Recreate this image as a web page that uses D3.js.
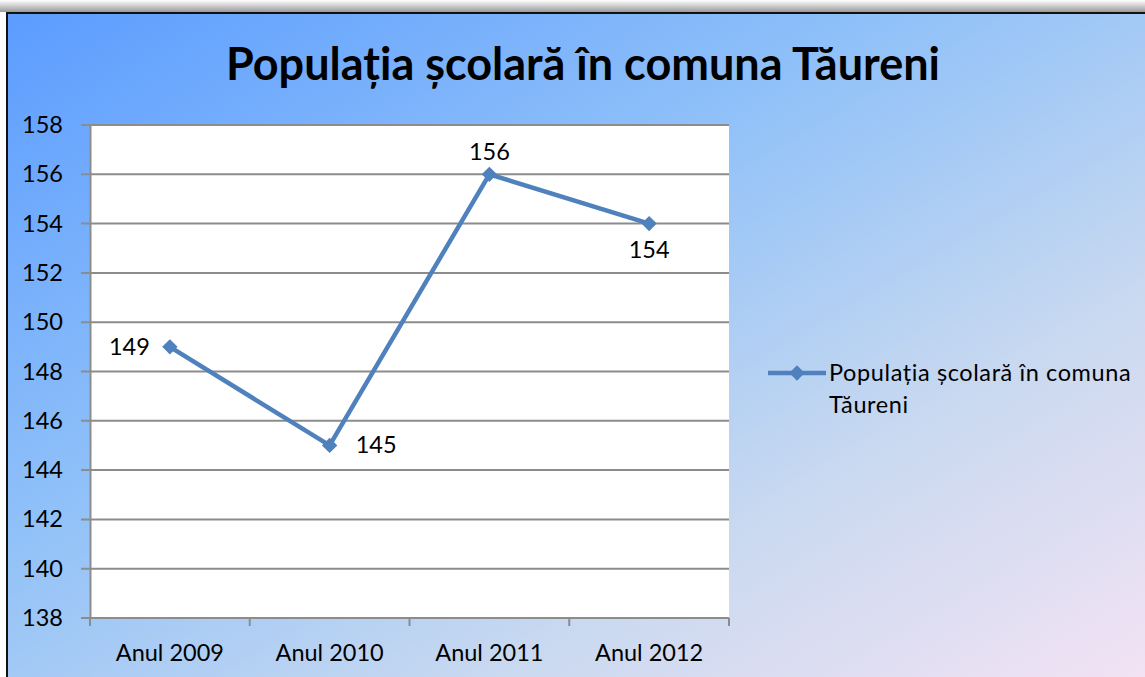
<!DOCTYPE html>
<html>
<head>
<meta charset="utf-8">
<script src="https://cdn.jsdelivr.net/npm/d3@7"></script>
<style>
  html, body { margin: 0; padding: 0; background: #fff; }
  svg { display: block; font-family: Lato, "Open Sans", sans-serif; }
</style>
</head>
<body>
<div id="chart"></div>
<script>
// date
const categories = ['Anul 2009', 'Anul 2010', 'Anul 2011', 'Anul 2012'];
const values = [149, 145, 156, 154];
const yTicks = [138, 140, 142, 144, 146, 148, 150, 152, 154, 156, 158];
const labelPos = ['left', 'right', 'top', 'bottom'];
const title = 'Populația școlară în comuna Tăureni';
const seriesName = ['Populația școlară în comuna', 'Tăureni'];

const width = 1145, height = 677;
const margin = { left: 90, right: 729, top: 125, bottom: 618 };
const fs = 23.5;

const svg = d3.select('#chart').append('svg')
    .attr('width', width)
    .attr('height', height);

const defs = svg.append('defs');

// fundal cu gradient
const bg = defs.append('linearGradient')
    .attr('id', 'bg').attr('x1', '0%').attr('y1', '0%').attr('x2', '100%').attr('y2', '100%');
bg.append('stop').attr('offset', '0%').attr('stop-color', '#5b9cff');
bg.append('stop').attr('offset', '40%').attr('stop-color', '#92c2f8');
bg.append('stop').attr('offset', '70%').attr('stop-color', '#c9d9f0');
bg.append('stop').attr('offset', '100%').attr('stop-color', '#f5e3f4');

const topShade = defs.append('linearGradient')
    .attr('id', 'topShade').attr('x1', '0').attr('y1', '0').attr('x2', '0').attr('y2', '1');
topShade.append('stop').attr('offset', '0%').attr('stop-color', '#ffffff');
topShade.append('stop').attr('offset', '100%').attr('stop-color', '#9a9a9a');

svg.append('rect').attr('x', 0).attr('y', 0).attr('width', width).attr('height', 12)
    .attr('fill', 'url(#topShade)');

svg.append('rect')
    .attr('x', 7).attr('y', 13)
    .attr('width', width + 10).attr('height', height)
    .attr('fill', 'url(#bg)')
    .attr('stroke', '#111').attr('stroke-width', 2);

// titlu
svg.append('text')
    .attr('x', 583).attr('y', 80)
    .attr('text-anchor', 'middle')
    .attr('font-size', 45).attr('font-weight', 'bold')
    .attr('fill', '#000')
    .text(title);

// scale
const x = d3.scaleBand().domain(categories).range([margin.left, margin.right]);
const y = d3.scaleLinear().domain([138, 158]).range([margin.bottom, margin.top]);

svg.append('rect')
    .attr('x', margin.left).attr('y', margin.top)
    .attr('width', margin.right - margin.left).attr('height', margin.bottom - margin.top)
    .attr('fill', '#fff');

// linii de grila
svg.append('g').selectAll('line')
    .data(yTicks)
    .join('line')
    .attr('x1', margin.left - 9).attr('x2', margin.right)
    .attr('y1', d => y(d)).attr('y2', d => y(d))
    .attr('stroke', '#8c8c8c').attr('stroke-width', 2);

// axa Y
const yAxis = svg.append('g')
    .attr('transform', `translate(${margin.left},0)`)
    .call(d3.axisLeft(y).tickValues(yTicks).tickSize(0).tickPadding(27));
yAxis.select('.domain').attr('stroke', '#8c8c8c').attr('stroke-width', 2);
yAxis.selectAll('text').attr('font-size', fs).attr('fill', '#000')
    .attr('font-family', 'Lato, sans-serif');

// axa X
const xAxis = svg.append('g')
    .attr('transform', `translate(0,${margin.bottom})`)
    .call(d3.axisBottom(x).tickSize(0).tickPadding(26));
xAxis.select('.domain').remove();
xAxis.selectAll('text').attr('font-size', fs).attr('fill', '#000')
    .attr('font-family', 'Lato, sans-serif');
svg.append('line')
    .attr('x1', margin.left).attr('x2', margin.right)
    .attr('y1', margin.bottom).attr('y2', margin.bottom)
    .attr('stroke', '#8c8c8c').attr('stroke-width', 2);
const bounds = categories.map(c => x(c)).concat([x(categories[categories.length - 1]) + x.bandwidth()]);
svg.append('g').selectAll('line')
    .data(bounds)
    .join('line')
    .attr('x1', d => d).attr('x2', d => d)
    .attr('y1', margin.bottom).attr('y2', margin.bottom + 8)
    .attr('stroke', '#8c8c8c').attr('stroke-width', 2);

// linia seriei
const cx = d => x(d) + x.bandwidth() / 2;
const pts = categories.map((c, i) => ({ c, v: values[i], pos: labelPos[i] }));
const color = '#4f81bd';

svg.append('path')
    .datum(pts)
    .attr('d', d3.line().x(d => cx(d.c)).y(d => y(d.v)))
    .attr('fill', 'none')
    .attr('stroke', color).attr('stroke-width', 4.5)
    .attr('stroke-linejoin', 'round');

const diamond = d3.symbol().type(d3.symbolDiamond2).size(150);
svg.append('g').selectAll('path')
    .data(pts)
    .join('path')
    .attr('d', diamond)
    .attr('transform', d => `translate(${cx(d.c)},${y(d.v)})`)
    .attr('fill', color);

// etichete de date
const offs = { left: [-20, 8, 'end'], right: [26, 8, 'start'], top: [0, -14, 'middle'], bottom: [0, 34, 'middle'] };
svg.append('g').selectAll('text')
    .data(pts)
    .join('text')
    .attr('x', d => cx(d.c) + offs[d.pos][0])
    .attr('y', d => y(d.v) + offs[d.pos][1])
    .attr('text-anchor', d => offs[d.pos][2])
    .attr('font-size', fs).attr('fill', '#000')
    .text(d => d.v);

// legenda
const lg = svg.append('g').attr('transform', 'translate(768,373)');
lg.append('line').attr('x1', 0).attr('x2', 58).attr('y1', 0).attr('y2', 0)
    .attr('stroke', color).attr('stroke-width', 4.5);
lg.append('path').attr('d', diamond).attr('transform', 'translate(29,0)').attr('fill', color);
lg.append('g').selectAll('text')
    .data(seriesName)
    .join('text')
    .attr('x', 61)
    .attr('y', (d, i) => 8 + i * 32)
    .attr('font-size', fs).attr('letter-spacing', 0.6).attr('fill', '#000')
    .text(d => d);
</script>
</body>
</html>
